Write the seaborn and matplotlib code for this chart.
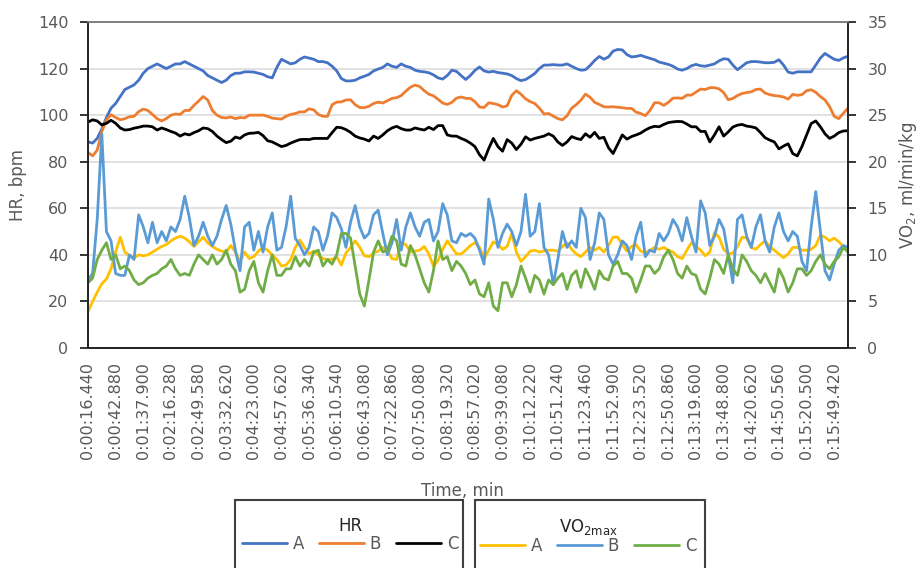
import numpy as np
import matplotlib
matplotlib.use("Agg")
import matplotlib.pyplot as plt
import seaborn as sns
from matplotlib.patches import Rectangle

# elapsed time labels, one for every 6th sample
time_labels = [
    "0:00:16.440", "0:00:42.880", "0:01:37.900", "0:02:16.280", "0:02:49.580",
    "0:03:32.620", "0:04:23.000", "0:04:57.620", "0:05:36.340", "0:06:10.540",
    "0:06:43.080", "0:07:22.860", "0:07:50.080", "0:08:19.320", "0:08:57.020",
    "0:09:39.080", "0:10:12.220", "0:10:51.240", "0:11:23.460", "0:11:52.900",
    "0:12:23.520", "0:12:50.860", "0:13:19.600", "0:13:48.800", "0:14:20.620",
    "0:14:50.560", "0:15:20.500", "0:15:49.420",
]

# heart rate, bpm (left axis)
hr_a = [88.5, 88, 90, 94, 99, 103, 105, 108, 111, 112, 113, 115, 118, 120, 121, 122, 121, 120, 121, 122,
        122, 123, 122, 121, 120, 119, 117, 116, 115, 114, 115, 117, 118, 118,
        118.6, 118.6, 118.5, 118, 117.5, 116.5, 116, 120.5, 124, 123, 122, 122.5, 124, 125, 124.5, 124,
        123, 123, 122.5, 121, 119, 115.7, 114.7, 114.7, 115, 116, 116.7, 117.5, 119, 119.8, 120.5, 122, 121, 120.5,
        122, 121, 120.5, 119.3, 118.8, 118.6, 118.2, 117.3, 116, 115.5, 117, 119.3, 118.8, 117, 115.3, 117,
        119.2, 120.7, 119, 118.5, 118.8, 118.3, 118, 117.7, 117, 115.7, 114.8, 115.3, 116.5, 117.9, 120, 121.5,
        121.5, 121.7, 121.5, 121.5, 122, 121, 120, 119.3, 119.5, 121.3, 123.5, 125.2, 124, 125, 127.5, 128.2,
        128, 126, 125, 125.2, 125.7, 125, 124.4, 123.8, 122.8, 122.3, 121.8, 121, 119.8, 119.3, 120, 121.2, 121.8, 121.2,
        121, 121.5, 122, 123.3, 124.2, 124, 121.5, 119.5, 121, 122.5, 123, 123, 122.8, 122.5, 122.5, 122.7,
        123.8, 121.5, 118.5, 118, 118.6, 118.6, 118.6, 118.6, 121.5, 124.5, 126.5, 125.2, 124, 123.5, 124.6, 125.3]
hr_b = [84, 82.5, 85, 93, 98, 100.2, 99, 98, 98.5, 99.3, 99.5, 101.5, 102.6, 102, 100.3, 98.5, 97.5, 98.5, 100, 100.5,
        100.3, 102, 102, 104.2, 106, 108, 106.5, 102, 100, 99, 98.8, 99.2, 98.5, 99,
        98.8, 100, 100, 100, 100, 99.5, 98.7, 98.5, 98.3, 99.5, 100.3, 100.7, 101.4, 101.4, 102.7, 102.3,
        100.3, 99.5, 99.5, 104.5, 105.6, 105.7, 106.5, 106.6, 104.5, 103.3, 103.2, 103.8, 105, 105.6, 105.2, 106.2, 107.2, 107.5,
        108.4, 110.3, 112, 112.9, 112.3, 110.5, 109, 108.3, 106.8, 105.2, 104.6, 105.5, 107.3, 107.8, 107.2, 107.2,
        105.8, 103.5, 103.3, 105.3, 105, 104.5, 103.5, 104, 108.5, 110.5, 109, 107, 105.8, 105, 103, 100.5,
        100.7, 99.6, 98.5, 98, 99.7, 103, 104.5, 106.4, 109, 107.7, 105.5, 104.6, 103.6, 103.5, 103.6, 103.4,
        103.2, 102.9, 102.9, 101.3, 100.7, 99.8, 102, 105.3, 105.3, 104.2, 105.5, 107.3, 107.4, 107.2, 108.6, 108.6, 109.9, 111.2,
        111, 111.8, 111.8, 111.3, 109.7, 106.6, 107.2, 108.4, 109.3, 109.7, 110, 111, 111.2, 109.5, 108.8, 108.4,
        108.2, 107.8, 106.9, 108.9, 108.5, 108.8, 110.5, 110.9, 109.8, 108, 106.5, 103.7, 99.5, 98.5, 100.8, 103]
hr_c = [97, 98, 97.5, 95.8, 96.5, 97.8, 96.5, 94.5, 93.6, 93.8, 94.4, 94.8, 95.3, 95.3, 95, 93.6, 94.5, 93.8, 93, 92.3,
        91, 92, 91.5, 92.5, 93.3, 94.5, 94.2, 93, 91, 89.5, 88.2, 88.8, 90.6, 90,
        91.5, 92.2, 92.3, 92.6, 91.2, 89, 88.5, 87.5, 86.5, 87, 88, 88.8, 89.5, 89.6, 89.5, 90,
        90, 90, 90, 92.5, 94.8, 94.6, 93.8, 92.6, 91, 90.2, 89.7, 88.9, 91, 90, 91.5, 93.3, 94.5, 95.2,
        94.2, 93.6, 93.6, 94.5, 94, 93.6, 94.8, 93.8, 95.5, 95.5, 91.5, 91, 91, 90, 89.2, 88,
        86.5, 83, 80.7, 85.7, 90, 86.5, 84.5, 89.5, 88, 85.2, 87.5, 90.7, 89.3, 90, 90.5, 91,
        92, 91, 88.5, 87, 88.5, 90.8, 90, 89.5, 92, 90.5, 92.6, 90, 90.5, 86, 83.5, 87.5,
        91.5, 89.7, 90.8, 91.5, 92.3, 93.6, 94.6, 95.2, 95, 96, 96.8, 97.1, 97.3, 97.2, 96.2, 95, 95, 93,
        93, 88.5, 91.5, 95, 91, 92.8, 94.9, 95.7, 96, 95.3, 95, 94.5, 92.5, 90.3, 89.3, 88.5,
        85.5, 86.7, 87.7, 83.5, 82.5, 86.5, 91.5, 96.4, 97.5, 95, 92, 90, 91, 92.5, 93.2, 93.3]

# oxygen uptake, ml/min/kg (right axis)
vo2_a = [3.9, 5.0, 6.0, 6.9, 7.4, 8.5, 10.3, 11.9, 10.3, 9.9, 9.7, 10.0, 9.9, 10.0, 10.3, 10.6, 10.9, 11.1, 11.5, 11.8,
         12.0, 11.8, 11.4, 10.9, 11.4, 11.9, 11.3, 10.9, 10.6, 10.4, 10.3, 11.0, 10.3, 9.3,
         10.3, 9.6, 9.8, 10.4, 10.8, 10.5, 10.0, 9.5, 8.8, 8.9, 9.5, 10.8, 11.6, 10.8, 10.1, 10.4,
         10.0, 9.6, 9.5, 9.5, 9.8, 8.9, 10.2, 10.8, 11.5, 10.8, 9.9, 9.8, 10.2, 10.4, 10.8, 10.5, 9.6, 9.5,
         11.3, 11.1, 10.3, 10.4, 10.5, 10.9, 10.1, 8.8, 9.4, 10.6, 11.5, 10.8, 10.1, 10.1, 10.5, 11.0,
         11.3, 10.8, 9.6, 10.5, 11.4, 11.1, 10.6, 10.9, 12.3, 10.3, 9.3, 9.8, 10.4, 10.5, 10.3, 10.4,
         10.5, 10.5, 10.4, 10.9, 11.3, 10.6, 10.1, 9.8, 10.3, 10.8, 10.5, 10.8, 10.3, 11.0, 11.9, 11.9,
         11.1, 10.4, 10.9, 11.1, 10.4, 10.2, 10.5, 10.8, 10.6, 10.8, 10.5, 10.3, 9.8, 9.6, 10.5, 11.3, 10.9, 10.5,
         9.9, 10.3, 12.4, 11.9, 10.6, 10.1, 10.2, 10.9, 11.9, 11.8, 10.8, 10.6, 11.1, 11.5, 10.9, 10.5,
         10.1, 9.7, 10.1, 10.8, 10.8, 10.5, 10.5, 10.6, 11.0, 12.1, 11.9, 11.5, 11.8, 11.4, 10.9, 10.5]
vo2_b = [7.3, 8.0, 13.8, 23.0, 12.5, 11.5, 8.0, 7.8, 7.8, 10.0, 9.5, 14.3, 13.0, 11.3, 13.5, 11.3, 12.5, 11.5, 13.0, 12.5,
         13.8, 16.3, 14.0, 11.0, 12.0, 13.5, 12.0, 11.0, 12.0, 13.8, 15.3, 13.3, 10.5, 8.3,
         13.0, 13.5, 10.5, 12.5, 10.3, 13.0, 14.5, 10.5, 10.8, 13.0, 16.3, 11.8, 11.0, 10.0, 10.8, 13.0,
         12.5, 10.5, 12.0, 14.5, 14.0, 12.8, 10.8, 13.5, 15.3, 13.0, 11.8, 12.3, 14.3, 14.8, 12.3, 10.0, 11.3, 13.8,
         10.5, 13.0, 14.5, 13.0, 12.0, 13.5, 13.8, 11.5, 12.5, 15.5, 14.3, 11.5, 11.3, 12.3, 12.0, 12.3,
         11.8, 10.5, 9.0, 16.0, 13.8, 10.8, 12.3, 13.3, 12.5, 11.0, 12.5, 16.5, 12.0, 12.5, 15.5, 10.8,
         10.0, 6.8, 9.5, 12.5, 10.8, 11.5, 10.8, 15.0, 14.0, 9.5, 11.3, 14.5, 13.8, 10.0, 9.0, 10.0,
         11.5, 11.0, 9.5, 12.0, 13.5, 9.8, 10.5, 10.3, 12.3, 11.5, 12.3, 13.8, 13.0, 11.5, 14.0, 12.0, 10.3, 15.8,
         14.5, 11.0, 12.0, 13.8, 12.8, 10.0, 7.0, 13.8, 14.3, 12.0, 10.8, 13.0, 14.3, 11.5, 10.3, 13.0,
         14.5, 12.5, 11.5, 12.5, 12.0, 9.3, 8.3, 13.0, 16.8, 12.5, 8.3, 7.3, 9.0, 10.5, 11.0, 10.8]
vo2_c = [7.0, 7.5, 9.5, 10.5, 11.3, 9.5, 10.0, 8.5, 8.8, 8.3, 7.3, 6.8, 7.0, 7.5, 7.8, 8.0, 8.5, 8.8, 9.5, 8.5,
         7.8, 8.0, 7.8, 9.0, 10.0, 9.5, 9.0, 10.0, 9.0, 9.5, 10.5, 9.0, 8.3, 6.0,
         6.3, 8.3, 9.3, 7.0, 6.0, 8.3, 10.0, 7.8, 7.8, 8.5, 8.5, 9.8, 8.8, 9.5, 8.8, 10.3,
         10.5, 8.8, 9.5, 9.0, 10.0, 12.3, 12.3, 11.8, 8.8, 5.8, 4.5, 7.3, 10.3, 11.5, 10.3, 10.5, 12.0, 11.5,
         9.0, 8.8, 11.0, 10.0, 8.5, 7.0, 6.0, 8.3, 11.5, 9.5, 9.8, 8.3, 9.3, 8.8, 8.0, 6.8,
         7.3, 5.8, 5.5, 7.0, 4.5, 4.0, 7.0, 7.0, 5.5, 6.8, 8.8, 7.5, 6.0, 7.8, 7.3, 5.8,
         7.3, 6.8, 7.5, 8.0, 6.3, 7.8, 8.3, 6.5, 8.5, 7.5, 6.3, 8.3, 7.5, 7.3, 8.8, 9.3,
         8.0, 8.0, 7.5, 6.0, 7.3, 8.8, 8.8, 8.0, 8.5, 9.8, 10.5, 9.5, 8.0, 7.5, 8.8, 8.0, 7.8, 6.3,
         5.8, 7.5, 9.5, 9.0, 8.0, 10.0, 8.5, 7.8, 10.0, 9.3, 8.3, 7.8, 7.0, 8.0, 7.0, 6.0,
         8.5, 7.5, 6.0, 7.0, 8.5, 8.5, 7.8, 8.3, 9.3, 10.0, 9.0, 8.5, 9.3, 9.8, 10.8, 10.3]

series_names = ["A", "B", "C"]
hr_colors = ["#4472C4", "#ED7D31", "#000000"]
vo2_colors = ["#FFC000", "#5B9BD5", "#70AD47"]

sns.set_theme(style="white")
plt.rcParams["font.family"] = ["DejaVu Sans"]
grey = "#595959"
dark = "#262626"

idx = np.arange(len(hr_a))

fig = plt.figure(figsize=(9.2, 5.68), dpi=100)
ax = fig.add_axes([88 / 920, 1 - 348 / 568, 760 / 920, 326 / 568])
ax2 = ax.twinx()

for vals, c in zip([hr_a, hr_b, hr_c], hr_colors):
    sns.lineplot(x=idx, y=vals, ax=ax, color=c, lw=2)
for vals, c in zip([vo2_a, vo2_b, vo2_c], vo2_colors):
    sns.lineplot(x=idx, y=vals, ax=ax2, color=c, lw=2)

ax.set_xlim(0, len(idx) - 1)
ax.set_ylim(0, 140)
ax.set_yticks(range(0, 141, 20))
ax2.set_ylim(0, 35)
ax2.set_yticks(range(0, 36, 5))

ax.set_xticks(idx[::6])
ax.set_xticklabels(time_labels, rotation=90)
ax.set_xticks(idx[::18], minor=True)
ax.tick_params(axis="x", which="major", bottom=True, length=0, pad=10, labelsize=11.5, labelcolor=grey)
ax.tick_params(axis="x", which="minor", bottom=True, length=6, width=1.3, color=dark, direction="out")
ax.tick_params(axis="y", left=True, length=6, width=1.3, color=dark, direction="out",
               pad=8, labelsize=11.5, labelcolor=grey)
ax2.tick_params(axis="y", right=True, left=False, length=6, width=1.3, color=dark, direction="out",
                pad=8, labelsize=11.5, labelcolor=grey)

ax.grid(axis="y", color="#d9d9d9", lw=1.1)
ax.grid(axis="x", visible=False)
ax2.grid(False)
for a in (ax, ax2):
    for side in ("left", "bottom", "right"):
        a.spines[side].set_color(dark)
        a.spines[side].set_linewidth(1.4)
    a.spines["top"].set_color("#7f7f7f")
    a.spines["top"].set_linewidth(1.2)

ax.set_xlabel("Time, min", fontsize=12, color=grey)
ax.xaxis.set_label_coords(0.493, -0.41)
ax.set_ylabel("HR, bpm", fontsize=12, color=grey)
ax.yaxis.set_label_coords(-0.08, 0.5)
ax2.set_ylabel(r"VO$_2$, ml/min/kg", fontsize=12, color=grey)
ax2.yaxis.set_label_coords(1.064, 0.5)

# two legend boxes under the chart
leg_kw = dict(ncol=3, loc="upper center", frameon=False, fontsize=12, title_fontsize=12,
              handlelength=2.7, handletextpad=0.35, columnspacing=0.9, labelcolor=grey,
              borderpad=0.2, labelspacing=0.0)
fig.legend(handles=ax.lines[:3], labels=series_names, title="HR",
           bbox_to_anchor=(350 / 920, 1 - 505 / 568), **leg_kw)
fig.legend(handles=ax2.lines[:3], labels=series_names, title=r"VO$_{\mathregular{2max}}$",
           bbox_to_anchor=(588 / 920, 1 - 505 / 568), **leg_kw)
for x0, x1 in [(235, 463), (475, 705)]:
    fig.add_artist(Rectangle((x0 / 920, -0.05), (x1 - x0) / 920, (568 - 500) / 568 + 0.05,
                             transform=fig.transFigure, fill=False, ec="#404040", lw=1.5))

fig.savefig("out.png", dpi=100, facecolor="white")
